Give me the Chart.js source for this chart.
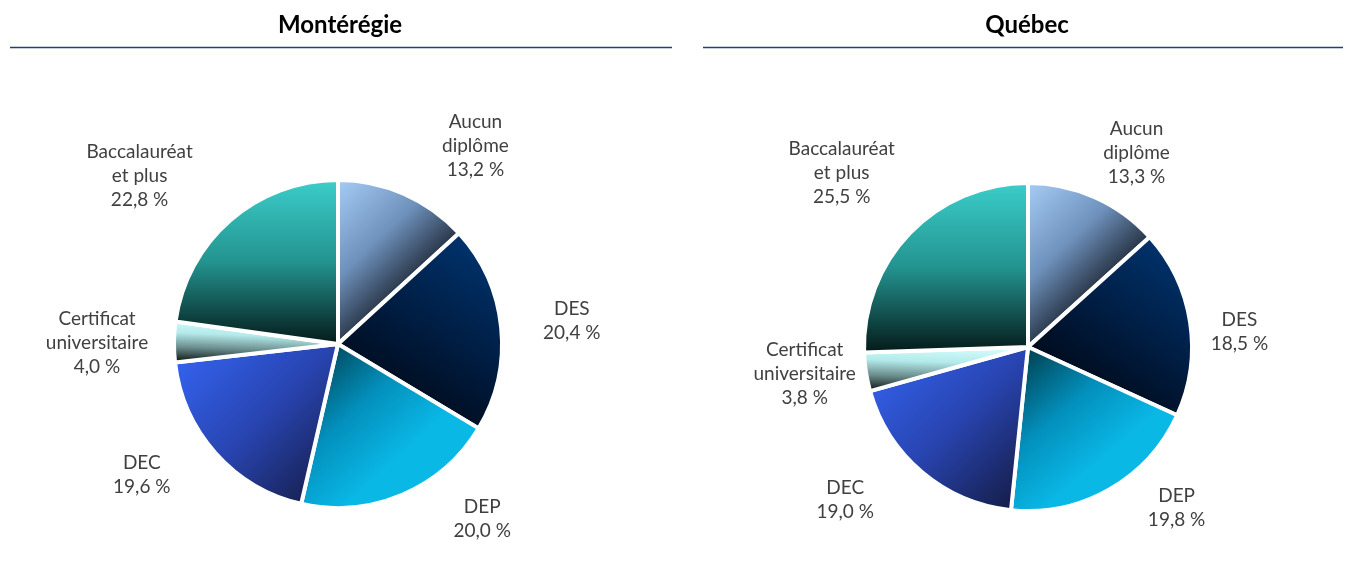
<!DOCTYPE html>
<html><head><meta charset="utf-8">
<script src="https://cdn.jsdelivr.net/npm/chart.js@4.4.1/dist/chart.umd.min.js"></script>
<style>
html,body{margin:0;padding:0;background:#fff;}
#wrap{position:relative;width:1351px;height:566px;overflow:hidden;}
canvas{position:absolute;top:0;}
#c1{left:0;} #c2{left:676px;}
</style></head><body>
<div id="wrap"><canvas id="c1" width="676" height="566"></canvas><canvas id="c2" width="675" height="566"></canvas></div>
<script>
// ---- data ----
const categories = ['Aucun diplôme', 'DES', 'DEP', 'DEC', 'Certificat universitaire', 'Baccalauréat et plus'];
const categoryLines = [['Aucun', 'diplôme'], ['DES'], ['DEP'], ['DEC'], ['Certificat', 'universitaire'], ['Baccalauréat', 'et plus']];
const monteregieValues = [13.2, 20.4, 20.0, 19.6, 4.0, 22.8];
const quebecValues = [13.3, 18.5, 19.8, 19.0, 3.8, 25.5];
const chartTitles = ['Montérégie', 'Québec'];

// ---- styles ----
const sliceGradients = [
  {from: [0, 0], to: [0.8, 0.62], stops: [[0, '#a6ccf5'], [0.5, '#6f92bd'], [1, '#11161f']]},
  {from: [0.9, 0.05], to: [0.25, 0.95], stops: [[0, '#00346f'], [0.55, '#001a3c'], [1, '#000610']]},
  {from: [0.05, 0], to: [0.6, 0.65], stops: [[0, '#003a48'], [0.55, '#0390bd'], [1, '#0ab8e6']]},
  {from: [0, 0], to: [1, 1], stops: [[0, '#3566f6'], [0.5, '#2844b0'], [1, '#13183c']]},
  {from: [0.5, 0], to: [0.49, 1], stops: [[0, '#d4fcfc'], [0.35, '#b4eaea'], [0.7, '#6a8c8c'], [1, '#1c2626']]},
  {from: [0, 0], to: [0, 1], stops: [[0, '#3bcdca'], [0.5, '#23938f'], [1, '#041a19']]}
];
const labelFont = '19px Lato';
const labelColor = '#404040';
const titleFont = 'bold 24px Lato';

function sectorBox(a) {
  const {x, y, startAngle, endAngle, outerRadius: r} = a.getProps(['x', 'y', 'startAngle', 'endAngle', 'outerRadius'], true);
  const pts = [[x, y], [x + r * Math.cos(startAngle), y + r * Math.sin(startAngle)], [x + r * Math.cos(endAngle), y + r * Math.sin(endAngle)]];
  for (let k = -4; k <= 8; k++) {
    const ang = k * Math.PI / 2;
    if (ang > startAngle && ang < endAngle) pts.push([x + r * Math.cos(ang), y + r * Math.sin(ang)]);
  }
  const xs = pts.map(p => p[0]), ys = pts.map(p => p[1]);
  return {x0: Math.min(...xs), y0: Math.min(...ys), x1: Math.max(...xs), y1: Math.max(...ys)};
}

const gradientPlugin = {
  id: 'sliceGradient',
  beforeDatasetsDraw(chart) {
    const ctx = chart.ctx;
    chart.getDatasetMeta(0).data.forEach((arc, i) => {
      const b = sectorBox(arc);
      const g = sliceGradients[i];
      const w = b.x1 - b.x0, h = b.y1 - b.y0;
      const grad = ctx.createLinearGradient(b.x0 + g.from[0] * w, b.y0 + g.from[1] * h, b.x0 + g.to[0] * w, b.y0 + g.to[1] * h);
      g.stops.forEach(s => grad.addColorStop(s[0], s[1]));
      arc.options = Object.assign({}, arc.options, {backgroundColor: grad});
    });
  }
};

const labelPlugin = {
  id: 'outsideLabels',
  afterDatasetsDraw(chart, args, opts) {
    const ctx = chart.ctx;
    const values = chart.data.datasets[0].data;
    ctx.save();
    ctx.font = labelFont;
    ctx.fillStyle = labelColor;
    ctx.textAlign = 'center';
    ctx.textBaseline = 'middle';
    chart.getDatasetMeta(0).data.forEach((arc, i) => {
      const {x, y, startAngle, endAngle} = arc.getProps(['x', 'y', 'startAngle', 'endAngle'], true);
      const a = (startAngle + endAngle) / 2 + opts.shift[i] * Math.PI / 180;
      const cx = x + opts.dist[i] * Math.cos(a), cy = y + opts.dist[i] * Math.sin(a);
      const lines = categoryLines[i].concat([values[i].toFixed(1).replace('.', ',') + '\u00a0%']);
      const lh = 24;
      lines.forEach((t, k) => ctx.fillText(t, cx, cy + (k - (lines.length - 1) / 2) * lh));
    });
    ctx.restore();
  }
};

const headerPlugin = {
  id: 'header',
  afterDraw(chart, args, opts) {
    const ctx = chart.ctx;
    ctx.save();
    ctx.font = titleFont;
    ctx.fillStyle = '#000';
    ctx.textAlign = 'center';
    ctx.textBaseline = 'middle';
    ctx.fillText(opts.text, opts.cx, 25);
    ctx.strokeStyle = '#1d4275';
    ctx.lineWidth = 1.5;
    ctx.beginPath();
    ctx.moveTo(opts.x0, 47.5);
    ctx.lineTo(opts.x1, 47.5);
    ctx.stroke();
    ctx.restore();
  }
};

function makePie(id, values, title, padding, header, labels) {
  return new Chart(document.getElementById(id), {
    type: 'pie',
    data: {labels: categories, datasets: [{data: values, backgroundColor: ['#9cc3ef', '#002a5c', '#05a8d8', '#2f5ae8', '#bfeeee', '#2fb8b4'], borderColor: '#ffffff', borderWidth: 4}]},
    options: {
      responsive: false,
      devicePixelRatio: 1,
      animation: false,
      events: [],
      layout: {padding},
      plugins: {
        legend: {display: false},
        tooltip: {enabled: false},
        header: Object.assign({text: title}, header),
        outsideLabels: labels
      }
    },
    plugins: [gradientPlugin, labelPlugin, headerPlugin]
  });
}

makePie('c1', monteregieValues, chartTitles[0],
  {left: 172, top: 178, right: 172, bottom: 56},
  {cx: 340, x0: 10, x1: 672},
  {shift: [11, 0, -16.4, 8, -0.5, -8.7], dist: [241, 235, 227, 236, 241, 260]});
makePie('c2', quebecValues, chartTitles[1],
  {left: 186, top: 181, right: 157, bottom: 53},
  {cx: 351, x0: 27, x1: 667},
  {shift: [5.3, 4.7, -13, 10, 1.8, -1], dist: [222, 212, 219, 238, 225, 255]});
</script>
</body></html>
